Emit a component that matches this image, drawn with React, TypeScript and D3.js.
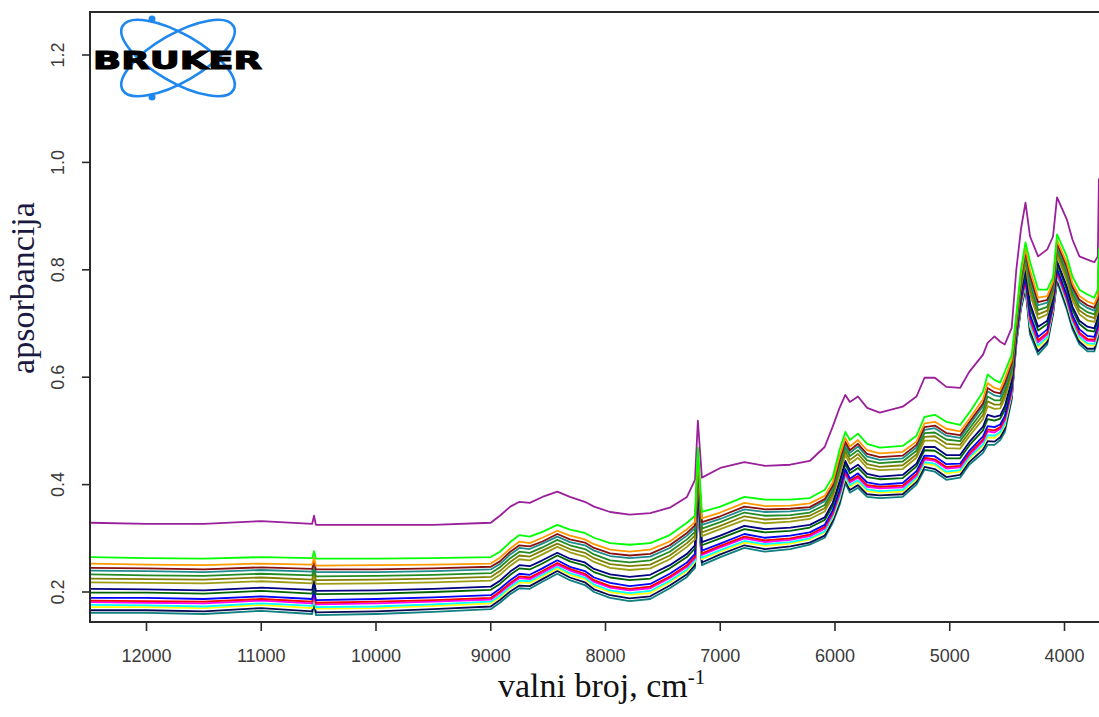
import React from "react";
import * as d3 from "d3";

// wavenumber grid (cm-1)
const WAVENUMBERS = [
  12500, 12000, 11500, 11000, 10556, 10540, 10524, 10000, 9500, 9000,
  8920, 8830, 8750, 8660, 8550, 8420, 8310, 8180, 8100, 7960,
  7790, 7610, 7440, 7290, 7220, 7195, 7160, 7000, 6790, 6610,
  6390, 6220, 6090, 6020, 5960, 5910, 5870, 5800, 5720, 5610,
  5410, 5290, 5220, 5130, 5030, 4910, 4830, 4710, 4670, 4610,
  4560, 4520, 4460, 4420, 4380, 4340, 4300, 4230, 4150, 4100,
  4065, 3980, 3930, 3870, 3800, 3740, 3710, 3700, 3660,
];

const purple = [
  0.329, 0.327, 0.327, 0.332, 0.327, 0.342, 0.325, 0.325, 0.325, 0.329,
  0.342, 0.359, 0.368, 0.366, 0.377, 0.387, 0.377, 0.368, 0.359, 0.349,
  0.344, 0.347, 0.357, 0.377, 0.409, 0.519, 0.413, 0.431, 0.442, 0.435,
  0.437, 0.444, 0.47, 0.508, 0.543, 0.567, 0.554, 0.564, 0.543, 0.534,
  0.545, 0.564, 0.599, 0.599, 0.582, 0.58, 0.61, 0.642, 0.664, 0.676,
  0.666, 0.661, 0.692, 0.8, 0.875, 0.925, 0.862, 0.825, 0.838, 0.862,
  0.935, 0.894, 0.856, 0.825, 0.819, 0.814, 0.825, 0.968, 0.987,
];
const lime = [
  0.265, 0.263, 0.262, 0.265, 0.263, 0.276, 0.262, 0.262, 0.263, 0.265,
  0.275, 0.293, 0.306, 0.303, 0.312, 0.325, 0.316, 0.31, 0.301, 0.291,
  0.288, 0.291, 0.306, 0.329, 0.342, 0.469, 0.349, 0.359, 0.377, 0.372,
  0.372, 0.375, 0.39, 0.414, 0.465, 0.498, 0.483, 0.495, 0.476, 0.469,
  0.472, 0.491, 0.526, 0.53, 0.517, 0.511, 0.534, 0.573, 0.605, 0.595,
  0.59, 0.61, 0.642, 0.717, 0.8, 0.851, 0.815, 0.763, 0.763, 0.786,
  0.866, 0.825, 0.787, 0.763, 0.754, 0.748, 0.763, 0.838, 0.856,
];
const orange = [
  0.253, 0.251, 0.25, 0.253, 0.251, 0.264, 0.249, 0.25, 0.251, 0.253,
  0.264, 0.281, 0.294, 0.291, 0.301, 0.314, 0.305, 0.298, 0.289, 0.279,
  0.275, 0.279, 0.294, 0.317, 0.33, 0.456, 0.337, 0.348, 0.366, 0.36,
  0.361, 0.365, 0.379, 0.404, 0.453, 0.487, 0.471, 0.483, 0.464, 0.458,
  0.461, 0.48, 0.514, 0.517, 0.504, 0.499, 0.522, 0.559, 0.589, 0.58,
  0.577, 0.597, 0.632, 0.71, 0.791, 0.84, 0.799, 0.748, 0.751, 0.778,
  0.855, 0.813, 0.775, 0.751, 0.741, 0.736, 0.752, 0.827, 0.845,
];
const darkred = [
  0.245, 0.244, 0.242, 0.246, 0.243, 0.258, 0.242, 0.242, 0.244, 0.247,
  0.257, 0.275, 0.287, 0.285, 0.294, 0.308, 0.298, 0.292, 0.282, 0.272,
  0.268, 0.271, 0.287, 0.31, 0.324, 0.449, 0.33, 0.341, 0.359, 0.354,
  0.355, 0.358, 0.373, 0.398, 0.445, 0.48, 0.464, 0.476, 0.457, 0.451,
  0.454, 0.474, 0.507, 0.51, 0.496, 0.492, 0.516, 0.551, 0.58, 0.572,
  0.57, 0.589, 0.626, 0.706, 0.786, 0.834, 0.789, 0.74, 0.744, 0.773,
  0.849, 0.806, 0.768, 0.744, 0.734, 0.729, 0.745, 0.82, 0.838,
];
const teal = [
  0.24, 0.239, 0.237, 0.241, 0.238, 0.253, 0.237, 0.237, 0.239, 0.242,
  0.252, 0.27, 0.282, 0.28, 0.29, 0.303, 0.293, 0.287, 0.277, 0.267,
  0.263, 0.266, 0.282, 0.305, 0.319, 0.443, 0.325, 0.336, 0.354, 0.349,
  0.35, 0.354, 0.369, 0.394, 0.44, 0.475, 0.459, 0.471, 0.452, 0.446,
  0.449, 0.469, 0.502, 0.505, 0.491, 0.487, 0.511, 0.546, 0.574, 0.566,
  0.564, 0.583, 0.622, 0.704, 0.782, 0.83, 0.782, 0.734, 0.739, 0.769,
  0.845, 0.801, 0.763, 0.739, 0.729, 0.724, 0.741, 0.816, 0.834,
];
const green = [
  0.233, 0.231, 0.23, 0.234, 0.231, 0.246, 0.229, 0.23, 0.232, 0.235,
  0.246, 0.263, 0.275, 0.273, 0.283, 0.297, 0.287, 0.28, 0.27, 0.259,
  0.255, 0.259, 0.275, 0.298, 0.312, 0.436, 0.318, 0.33, 0.348, 0.342,
  0.343, 0.348, 0.362, 0.388, 0.433, 0.469, 0.453, 0.464, 0.445, 0.44,
  0.443, 0.463, 0.496, 0.497, 0.484, 0.481, 0.504, 0.538, 0.564, 0.557,
  0.557, 0.575, 0.616, 0.7, 0.777, 0.824, 0.773, 0.725, 0.731, 0.765,
  0.839, 0.794, 0.757, 0.731, 0.721, 0.717, 0.734, 0.809, 0.827,
];
const olive = [
  0.225, 0.224, 0.223, 0.227, 0.223, 0.24, 0.222, 0.223, 0.225, 0.228,
  0.239, 0.256, 0.268, 0.266, 0.277, 0.29, 0.28, 0.273, 0.263, 0.252,
  0.248, 0.251, 0.268, 0.291, 0.305, 0.428, 0.311, 0.323, 0.341, 0.335,
  0.337, 0.342, 0.356, 0.382, 0.426, 0.462, 0.446, 0.457, 0.438, 0.433,
  0.436, 0.456, 0.489, 0.49, 0.476, 0.474, 0.497, 0.53, 0.555, 0.549,
  0.549, 0.567, 0.61, 0.696, 0.772, 0.818, 0.763, 0.717, 0.724, 0.76,
  0.833, 0.787, 0.75, 0.724, 0.714, 0.71, 0.728, 0.803, 0.821,
];
const olive2 = [
  0.218, 0.217, 0.216, 0.22, 0.216, 0.233, 0.215, 0.216, 0.218, 0.221,
  0.232, 0.249, 0.261, 0.259, 0.27, 0.284, 0.274, 0.266, 0.256, 0.245,
  0.241, 0.244, 0.261, 0.284, 0.298, 0.421, 0.304, 0.317, 0.334, 0.328,
  0.331, 0.336, 0.35, 0.376, 0.419, 0.455, 0.439, 0.45, 0.431, 0.427,
  0.429, 0.45, 0.482, 0.482, 0.468, 0.467, 0.49, 0.522, 0.546, 0.541,
  0.542, 0.56, 0.604, 0.692, 0.767, 0.811, 0.754, 0.709, 0.717, 0.755,
  0.826, 0.78, 0.743, 0.717, 0.706, 0.703, 0.721, 0.796, 0.814,
];
const navy = [
  0.206, 0.205, 0.203, 0.208, 0.204, 0.221, 0.202, 0.203, 0.206, 0.21,
  0.221, 0.238, 0.25, 0.248, 0.259, 0.273, 0.262, 0.255, 0.243, 0.233,
  0.228, 0.232, 0.25, 0.271, 0.287, 0.408, 0.293, 0.305, 0.323, 0.317,
  0.32, 0.325, 0.339, 0.366, 0.406, 0.444, 0.427, 0.437, 0.42, 0.415,
  0.418, 0.439, 0.47, 0.47, 0.455, 0.455, 0.479, 0.508, 0.53, 0.526,
  0.529, 0.546, 0.594, 0.685, 0.758, 0.801, 0.737, 0.694, 0.705, 0.747,
  0.816, 0.769, 0.731, 0.705, 0.694, 0.691, 0.71, 0.785, 0.803,
];
const darkgreen = [
  0.199, 0.199, 0.197, 0.202, 0.197, 0.216, 0.196, 0.197, 0.2, 0.204,
  0.215, 0.232, 0.244, 0.242, 0.253, 0.268, 0.257, 0.249, 0.237, 0.227,
  0.222, 0.225, 0.244, 0.265, 0.281, 0.402, 0.287, 0.3, 0.317, 0.311,
  0.314, 0.32, 0.334, 0.36, 0.4, 0.438, 0.421, 0.431, 0.414, 0.41,
  0.412, 0.434, 0.464, 0.463, 0.449, 0.449, 0.473, 0.501, 0.522, 0.519,
  0.523, 0.539, 0.589, 0.682, 0.753, 0.796, 0.729, 0.687, 0.699, 0.743,
  0.811, 0.763, 0.725, 0.699, 0.687, 0.685, 0.704, 0.779, 0.797,
];
const blue = [
  0.189, 0.189, 0.187, 0.192, 0.187, 0.206, 0.185, 0.187, 0.19, 0.194,
  0.206, 0.222, 0.234, 0.232, 0.244, 0.259, 0.247, 0.239, 0.227, 0.217,
  0.211, 0.215, 0.234, 0.255, 0.271, 0.391, 0.277, 0.29, 0.308, 0.301,
  0.305, 0.311, 0.325, 0.352, 0.39, 0.429, 0.411, 0.421, 0.404, 0.4,
  0.403, 0.425, 0.454, 0.453, 0.438, 0.439, 0.463, 0.49, 0.509, 0.507,
  0.512, 0.528, 0.581, 0.676, 0.746, 0.787, 0.716, 0.675, 0.689, 0.736,
  0.802, 0.753, 0.715, 0.689, 0.677, 0.675, 0.695, 0.77, 0.788,
];
const red = [
  0.184, 0.183, 0.182, 0.187, 0.182, 0.201, 0.18, 0.182, 0.185, 0.189,
  0.201, 0.217, 0.229, 0.227, 0.239, 0.254, 0.243, 0.234, 0.222, 0.211,
  0.206, 0.21, 0.229, 0.25, 0.266, 0.386, 0.272, 0.286, 0.303, 0.296,
  0.3, 0.307, 0.321, 0.348, 0.385, 0.424, 0.407, 0.416, 0.399, 0.396,
  0.398, 0.42, 0.45, 0.447, 0.433, 0.435, 0.458, 0.484, 0.503, 0.501,
  0.507, 0.523, 0.576, 0.673, 0.742, 0.782, 0.709, 0.669, 0.683, 0.732,
  0.797, 0.748, 0.711, 0.683, 0.671, 0.67, 0.69, 0.765, 0.783,
];
const magenta = [
  0.181, 0.18, 0.179, 0.184, 0.179, 0.198, 0.177, 0.179, 0.182, 0.186,
  0.198, 0.214, 0.226, 0.224, 0.236, 0.251, 0.24, 0.231, 0.219, 0.208,
  0.203, 0.207, 0.226, 0.247, 0.263, 0.383, 0.269, 0.283, 0.3, 0.293,
  0.297, 0.304, 0.318, 0.345, 0.382, 0.421, 0.404, 0.413, 0.396, 0.393,
  0.395, 0.417, 0.447, 0.444, 0.43, 0.432, 0.455, 0.481, 0.499, 0.497,
  0.504, 0.52, 0.573, 0.671, 0.74, 0.779, 0.705, 0.665, 0.68, 0.73,
  0.794, 0.745, 0.708, 0.68, 0.668, 0.667, 0.687, 0.762, 0.78,
];
const cyan = [
  0.176, 0.175, 0.173, 0.179, 0.174, 0.193, 0.172, 0.173, 0.177, 0.182,
  0.193, 0.21, 0.221, 0.22, 0.232, 0.247, 0.235, 0.227, 0.214, 0.203,
  0.198, 0.202, 0.221, 0.242, 0.259, 0.377, 0.264, 0.278, 0.295, 0.289,
  0.293, 0.3, 0.313, 0.341, 0.376, 0.416, 0.399, 0.408, 0.391, 0.388,
  0.39, 0.413, 0.442, 0.439, 0.424, 0.427, 0.451, 0.475, 0.492, 0.491,
  0.498, 0.514, 0.57, 0.669, 0.736, 0.775, 0.698, 0.659, 0.675, 0.727,
  0.79, 0.74, 0.703, 0.675, 0.663, 0.662, 0.683, 0.758, 0.776,
];
const yellow = [
  0.172, 0.172, 0.17, 0.176, 0.17, 0.191, 0.169, 0.17, 0.174, 0.179,
  0.19, 0.207, 0.218, 0.217, 0.229, 0.244, 0.232, 0.224, 0.211, 0.2,
  0.195, 0.198, 0.218, 0.239, 0.256, 0.374, 0.261, 0.275, 0.292, 0.286,
  0.29, 0.298, 0.311, 0.338, 0.373, 0.413, 0.396, 0.405, 0.388, 0.385,
  0.387, 0.41, 0.439, 0.436, 0.421, 0.424, 0.448, 0.472, 0.488, 0.487,
  0.495, 0.51, 0.567, 0.667, 0.734, 0.773, 0.694, 0.655, 0.672, 0.725,
  0.788, 0.737, 0.7, 0.672, 0.66, 0.659, 0.68, 0.755, 0.773,
];
const navyDark = [
  0.166, 0.166, 0.164, 0.17, 0.164, 0.185, 0.162, 0.164, 0.168, 0.173,
  0.185, 0.201, 0.212, 0.211, 0.224, 0.239, 0.227, 0.218, 0.205, 0.194,
  0.188, 0.192, 0.212, 0.233, 0.25, 0.367, 0.255, 0.27, 0.287, 0.28,
  0.285, 0.292, 0.305, 0.333, 0.367, 0.408, 0.39, 0.399, 0.382, 0.38,
  0.382, 0.405, 0.433, 0.429, 0.414, 0.418, 0.442, 0.465, 0.481, 0.48,
  0.488, 0.504, 0.562, 0.664, 0.73, 0.767, 0.686, 0.648, 0.666, 0.72,
  0.783, 0.731, 0.694, 0.666, 0.653, 0.653, 0.675, 0.75, 0.768,
];
const darkcyan = [
  0.161, 0.161, 0.159, 0.165, 0.159, 0.18, 0.157, 0.159, 0.163, 0.168,
  0.18, 0.196, 0.207, 0.206, 0.219, 0.234, 0.222, 0.213, 0.2, 0.189,
  0.183, 0.187, 0.207, 0.228, 0.245, 0.362, 0.25, 0.265, 0.282, 0.275,
  0.28, 0.288, 0.301, 0.329, 0.362, 0.403, 0.385, 0.394, 0.377, 0.375,
  0.377, 0.4, 0.428, 0.424, 0.409, 0.413, 0.437, 0.459, 0.474, 0.474,
  0.483, 0.498, 0.558, 0.661, 0.726, 0.763, 0.679, 0.642, 0.661, 0.717,
  0.778, 0.726, 0.689, 0.661, 0.648, 0.648, 0.67, 0.745, 0.763,
];

const SERIES = [
  { name: "s1", color: "#9a1f9a", values: purple },
  { name: "s17", color: "#0f7f80", values: darkcyan },
  { name: "s16", color: "#0b0b55", values: navyDark },
  { name: "s15", color: "#ffff00", values: yellow },
  { name: "s14", color: "#00ffff", values: cyan },
  { name: "s13", color: "#ff00ff", values: magenta },
  { name: "s12", color: "#ff0000", values: red },
  { name: "s11", color: "#0000ff", values: blue },
  { name: "s10", color: "#006400", values: darkgreen },
  { name: "s9", color: "#000080", values: navy },
  { name: "s8", color: "#9c9c12", values: olive2 },
  { name: "s7", color: "#808000", values: olive },
  { name: "s6", color: "#228b22", values: green },
  { name: "s5", color: "#1e8c8c", values: teal },
  { name: "s4", color: "#8b1010", values: darkred },
  { name: "s3", color: "#ff9900", values: orange },
  { name: "s2", color: "#00ff00", values: lime },
];

const X_TICKS = [12000, 11000, 10000, 9000, 8000, 7000, 6000, 5000, 4000];
const Y_TICKS = [0.2, 0.4, 0.6, 0.8, 1.0, 1.2];

export default function App() {
  const width = 1099;
  const height = 717;
  const plot = { left: 90, top: 12, right: 1099, bottom: 622 };

  const x = d3.scaleLinear().domain([12000, 4000]).range([146.5, 1064.5]);
  const y = d3.scaleLinear().domain([0.2, 1.2]).range([592, 55]);

  const line = d3
    .line<number>()
    .x((_, i) => x(WAVENUMBERS[i]))
    .y((d) => y(d));

  const axisColor = "#2a2a2a";
  const tickFont = "'Liberation Sans', Arial, sans-serif";
  const serif = "'Liberation Serif', 'Times New Roman', serif";

  return (
    <div style={{ position: "absolute", left: 0, top: 0 }}>
      <svg width={width} height={height} style={{ display: "block", background: "#fff" }}>
        <defs>
          <clipPath id="plotClip">
            <rect x={plot.left + 1} y={plot.top + 1} width={plot.right - plot.left} height={plot.bottom - plot.top - 2} />
          </clipPath>
        </defs>

        {/* spectra */}
        <g clipPath="url(#plotClip)">
          {SERIES.map((s) => (
            <path
              key={s.name}
              d={line(s.values) || ""}
              fill="none"
              stroke={s.color}
              strokeWidth={1.8}
              strokeLinejoin="round"
            />
          ))}
        </g>

        {/* Bruker logo */}
        <g>
          <ellipse cx={178} cy={58} rx={64} ry={24} fill="none" stroke="#1e88ee" strokeWidth={2.6} transform="rotate(30 178 58)" />
          <ellipse cx={178} cy={58} rx={64} ry={24} fill="none" stroke="#1e88ee" strokeWidth={2.6} transform="rotate(-30 178 58)" />
          <circle cx={152} cy={19} r={3.5} fill="#1e88ee" />
          <circle cx={152} cy={97} r={3.5} fill="#1e88ee" />
          <text
            x={93}
            y={69}
            fontFamily="'DejaVu Sans', sans-serif"
            fontWeight={900}
            fontSize={25}
            textLength={169}
            lengthAdjust="spacingAndGlyphs"
            fill="#000"
            stroke="#000"
            strokeWidth={1.2}
          >
            BRUKER
          </text>
        </g>

        {/* frame */}
        <line x1={plot.left} x2={plot.right} y1={plot.top} y2={plot.top} stroke={axisColor} strokeWidth={2} />
        <line x1={plot.left} x2={plot.right} y1={plot.bottom} y2={plot.bottom} stroke={axisColor} strokeWidth={2} />
        <line x1={plot.left} x2={plot.left} y1={plot.top - 1} y2={plot.bottom + 1} stroke={axisColor} strokeWidth={2} />

        {/* x ticks */}
        {X_TICKS.map((t) => (
          <g key={t}>
            <line x1={x(t)} x2={x(t)} y1={plot.bottom} y2={plot.bottom + 9} stroke={axisColor} strokeWidth={1.6} />
            <text x={x(t)} y={662} textAnchor="middle" fontFamily={tickFont} fontSize={18} fill="#3a3a3a">
              {t}
            </text>
          </g>
        ))}

        {/* y ticks */}
        {Y_TICKS.map((t) => (
          <g key={t}>
            <line x1={plot.left - 8} x2={plot.left} y1={y(t)} y2={y(t)} stroke={axisColor} strokeWidth={1.6} />
            <text
              transform={`translate(64 ${y(t)}) rotate(-90)`}
              textAnchor="middle"
              fontFamily={tickFont}
              fontSize={18}
              fill="#3a3a3a"
            >
              {t.toFixed(1)}
            </text>
          </g>
        ))}

        {/* axis titles */}
        <text x={498} y={697} fontFamily={serif} fontSize={34} fill="#111">
          valni broj, cm
          <tspan fontSize={21} dy={-13}>-1</tspan>
        </text>
        <text
          transform="translate(34 288) rotate(-90)"
          textAnchor="middle"
          fontFamily={serif}
          fontSize={34}
          fill="#1a1a40"
        >
          apsorbancija
        </text>
      </svg>
    </div>
  );
}
